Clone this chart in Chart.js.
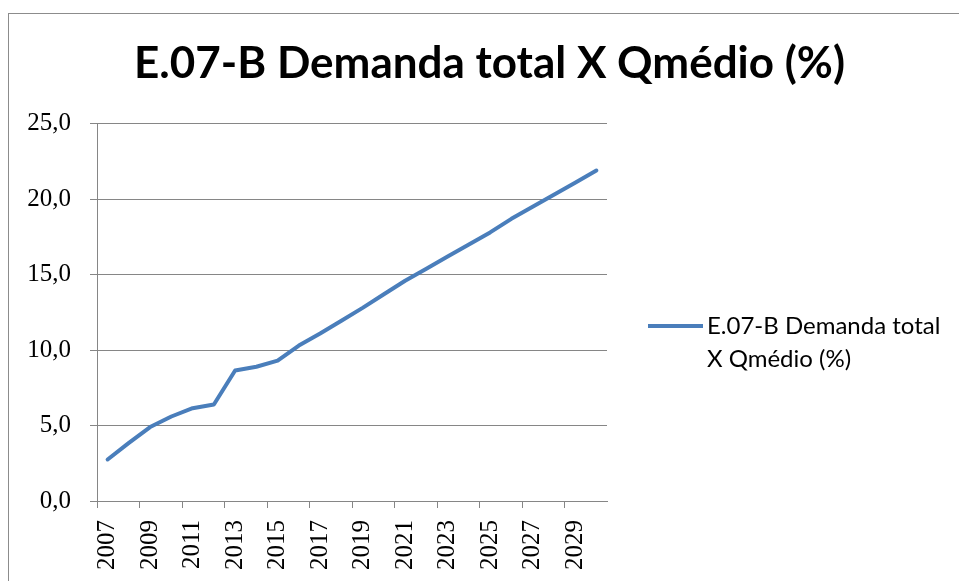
<!DOCTYPE html>
<html>
<head>
<meta charset="utf-8">
<script src="https://cdn.jsdelivr.net/npm/chart.js@4"></script>
<style>
  html, body { margin: 0; padding: 0; background: #fff; overflow: hidden; }
  #frame { position: absolute; left: 8px; top: 13px; width: 1000px; height: 700px; border: 1px solid #8c8c8c; }
  #chart { position: absolute; left: 0; top: 0; }
</style>
</head>
<body>
<div id="frame"></div>
<canvas id="chart" width="959" height="581"></canvas>
<script>
// data
const chartTitle = 'E.07-B Demanda total X Qmédio (%)';
const seriesName = 'E.07-B Demanda total X Qmédio (%)';
const years = ['2007', '2008', '2009', '2010', '2011', '2012', '2013', '2014', '2015', '2016', '2017', '2018',
  '2019', '2020', '2021', '2022', '2023', '2024', '2025', '2026', '2027', '2028', '2029', '2030'];
const demandaQmedio = [2.75, 3.85, 4.9, 5.6, 6.15, 6.4, 8.65, 8.9, 9.3, 10.3, 11.1, 11.95,
  12.8, 13.7, 14.6, 15.4, 16.2, 17.0, 17.8, 18.7, 19.5, 20.3, 21.1, 21.9];
const yMin = 0;
const yMax = 25;
const yStep = 5;

const lineBlue = '#4a7ebb';
const axisGrey = '#868686';

// wraps the series name over two lines, like the Excel legend does
function wrapText(ctx, text, maxWidth) {
  const words = text.split(' ');
  const lines = [];
  let cur = '';
  words.forEach(w => {
    const test = cur ? cur + ' ' + w : w;
    if (ctx.measureText(test).width > maxWidth && cur) {
      lines.push(cur);
      cur = w;
    } else {
      cur = test;
    }
  });
  if (cur) lines.push(cur);
  return lines;
}

// legend on the right side, added as its own layout box
const sideLegend = {
  id: 'sideLegend',
  beforeInit(chart) {
    const box = {
      position: 'right',
      weight: 0,
      fullSize: false,
      options: {},
      width: 0, height: 0, left: 0, top: 0, right: 0, bottom: 0,
      isHorizontal() { return false; },
      update(maxWidth, maxHeight) {
        this.width = 352;
        this.height = maxHeight;
      },
      draw() {
        const ctx = chart.ctx;
        const ds = chart.data.datasets[0];
        const x0 = this.left;
        ctx.save();
        ctx.strokeStyle = ds.borderColor;
        ctx.lineWidth = 4;
        ctx.beginPath();
        ctx.moveTo(x0 + 41, 326);
        ctx.lineTo(x0 + 96, 326);
        ctx.stroke();
        ctx.font = '24px Lato';
        ctx.fillStyle = '#000';
        ctx.textBaseline = 'alphabetic';
        const lines = wrapText(ctx, ds.label, 240);
        lines.forEach((l, i) => ctx.fillText(l, x0 + 100, 334 + i * 33));
        ctx.restore();
      }
    };
    Chart.layouts.addBox(chart, box);
  }
};

new Chart(document.getElementById('chart'), {
  type: 'line',
  data: {
    labels: years,
    datasets: [{
      label: seriesName,
      data: demandaQmedio,
      borderColor: lineBlue,
      backgroundColor: lineBlue,
      borderWidth: 4,
      borderCapStyle: 'round',
      borderJoinStyle: 'round',
      pointRadius: 0,
      tension: 0
    }]
  },
  options: {
    responsive: false,
    animation: false,
    layout: { padding: { left: 20, right: 0, top: 0, bottom: 0 } },
    plugins: {
      legend: { display: false },
      tooltip: { enabled: false },
      title: {
        display: true,
        text: chartTitle,
        color: '#000',
        font: { family: 'Lato', size: 44, weight: 'bold', lineHeight: 1.2 },
        padding: { top: 37, bottom: 34 }
      }
    },
    scales: {
      x: {
        offset: true,
        grid: {
          offset: true,
          drawOnChartArea: false,
          tickLength: 7,
          tickColor: (c) => (c.index % 2 === 0 ? axisGrey : 'rgba(0,0,0,0)')
        },
        border: { color: axisGrey },
        ticks: {
          autoSkip: false,
          maxRotation: 90,
          minRotation: 90,
          padding: 12,
          color: '#000',
          font: { family: 'Liberation Serif', size: 25 },
          callback: function (v, i) { return i % 2 === 0 ? this.getLabelForValue(v) : ''; }
        },
        afterFit: (s) => { s.height = 80; }
      },
      y: {
        min: yMin,
        max: yMax,
        grid: { color: axisGrey, tickLength: 7 },
        border: { color: axisGrey },
        ticks: {
          stepSize: yStep,
          padding: 19,
          color: '#000',
          font: { family: 'Liberation Serif', size: 25 },
          callback: (v) => v.toFixed(1).replace('.', ',')
        },
        afterFit: (s) => { s.width = 77; }
      }
    }
  },
  plugins: [sideLegend]
});
</script>
</body>
</html>
